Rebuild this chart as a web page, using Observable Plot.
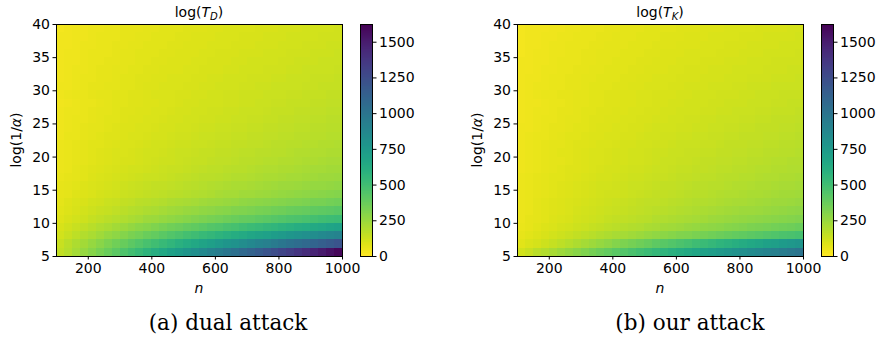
<!DOCTYPE html>
<html>
<head>
<meta charset="utf-8">
<script src="https://cdn.jsdelivr.net/npm/d3@7"></script>
<script src="https://cdn.jsdelivr.net/npm/@observablehq/plot@0.6"></script>
<style>
  html, body { margin: 0; padding: 0; background: #fff; }
  #root { position: relative; width: 881px; height: 343px; font-family: "DejaVu Sans", sans-serif; color: #000; overflow: hidden; }
  .abs { position: absolute; white-space: nowrap; }
  .title { font-size: 14px; }
  .ylab { font-size: 14px; transform: translate(-50%, -50%) rotate(-90deg); }
  .xlab { font-size: 14px; font-style: italic; }
  .cap { font-family: "DejaVu Serif", serif; font-size: 21.5px; }
  sub { font-size: 10px; vertical-align: -3px; }
</style>
</head>
<body>
<div id="root"></div>
<script>
// ---- Data ----
const nStart = [100,125,150,175,200,225,250,275,300,325,350,375,400,425,450,475,500,525,550,575,600,625,650,675,700,725,750,775,800,825,850,875,900,925,950,975];
const alphaStart = [5,6.25,7.5,8.75,10,11.25,12.5,13.75,15,16.25,17.5,18.75,20,21.25,22.5,23.75,25,26.25,27.5,28.75,30,31.25,32.5,33.75,35,36.25,37.5,38.75];
const xTicks = [200,400,600,800,1000];
const yTicks = [5,10,15,20,25,30,35,40];
const cbTicks = [0,250,500,750,1000,1250,1500];
const colorMax = 1624;
const titles = ["T", "T"];
const subs = ["D", "K"];
const captions = ["(a) dual attack", "(b) our attack"];

// rows from bottom (log(1/alpha)=5) to top (40); columns n = 100..1000
const dualRows = [
[146,183,220,257,295,333,372,411,451,490,531,571,612,653,694,735,776,819,860,902,945,987,1030,1073,1116,1159,1202,1245,1289,1332,1376,1421,1465,1509,1553,1598],
[137,167,197,228,258,289,319,349,380,410,440,471,501,532,562,592,623,653,683,714,744,775,805,835,866,896,926,957,987,1018,1048,1078,1109,1139,1169,1200],
[114,138,162,186,209,233,256,279,302,325,347,370,393,415,438,460,483,505,527,550,572,594,616,638,660,682,704,726,748,770,791,813,835,857,879,900],
[98,117,136,155,173,191,209,227,245,263,280,297,315,332,349,365,383,399,416,433,449,465,482,498,514,531,547,563,579,595,611,627,643,659,675,690],
[82,97,112,126,141,155,168,182,195,209,221,235,247,260,272,285,298,310,322,334,346,358,370,382,393,405,417,429,440,452,463,474,486,497,508,520],
[74,87,99,111,123,134,145,156,167,178,188,199,209,219,229,238,248,258,268,277,287,296,305,314,323,332,342,350,359,368,376,385,394,402,411,420],
[69,80,90,100,111,120,129,138,148,156,165,174,182,190,198,205,214,222,229,237,245,252,259,267,274,281,288,295,302,309,316,323,330,336,343,350],
[59,68,77,86,95,103,111,119,127,134,141,149,156,163,169,176,183,190,196,203,210,216,222,229,234,240,247,253,259,265,270,277,283,288,294,300],
[59,68,76,84,92,100,107,114,121,127,134,140,146,152,158,164,170,176,182,187,193,199,204,209,214,219,225,230,235,240,245,250,256,260,265,270],
[53,62,69,76,84,90,97,103,109,116,121,127,133,138,144,149,155,160,165,170,175,180,185,190,195,199,205,209,213,218,222,227,232,236,241,245],
[50,57,64,71,78,84,90,96,102,108,113,119,124,129,134,139,144,149,154,159,163,168,172,177,181,186,191,195,199,203,207,212,216,220,224,228],
[47,54,60,67,73,79,84,90,96,101,106,111,116,121,125,130,135,140,144,149,153,157,162,166,170,174,179,182,186,190,194,198,202,206,210,214],
[49,56,62,68,74,80,85,90,95,100,105,110,114,118,123,127,132,136,140,144,148,152,155,159,163,166,171,174,177,181,184,188,192,194,198,202],
[47,53,59,65,71,76,81,86,91,95,100,104,108,113,117,121,125,129,133,137,141,144,148,151,155,158,162,165,168,172,175,179,182,185,188,192],
[44,51,56,62,67,72,77,82,86,91,95,100,103,107,111,115,119,123,127,130,134,137,141,144,147,151,155,158,161,164,167,170,174,176,180,183],
[42,48,54,59,64,69,74,78,83,87,91,95,99,103,106,110,114,118,121,125,128,131,135,138,141,144,148,151,154,157,160,163,166,169,172,175],
[41,46,52,57,62,67,71,75,79,84,87,91,95,99,102,106,109,113,116,120,123,126,129,133,135,138,142,145,147,151,153,156,160,162,165,168],
[39,45,50,55,60,64,68,72,77,81,84,88,92,95,99,102,106,109,112,115,119,122,125,128,131,133,137,140,142,145,148,151,154,156,159,162],
[38,43,48,53,57,62,66,70,74,78,81,85,88,92,95,98,102,105,108,111,114,117,120,123,126,129,132,134,137,140,142,145,148,150,153,156],
[41,46,51,55,60,64,68,71,75,79,82,86,89,92,95,98,101,104,107,110,113,115,118,121,123,126,129,131,133,136,138,141,143,145,148,150],
[39,44,49,53,58,62,65,69,73,76,79,83,86,89,92,95,98,101,103,106,109,112,114,117,119,121,124,127,129,131,133,136,139,140,143,145],
[38,43,47,52,56,60,63,67,70,74,77,80,83,86,89,91,94,97,100,103,105,108,110,113,115,117,120,122,124,127,129,131,134,135,138,140],
[37,41,46,50,54,58,61,64,68,71,74,77,80,83,85,88,91,94,96,99,101,104,106,109,111,113,116,118,120,122,124,127,129,131,133,135],
[36,40,44,48,52,56,59,62,66,69,72,75,78,80,83,85,88,91,93,96,98,101,103,106,108,110,112,114,116,119,121,123,125,127,129,131],
[34,39,43,47,51,54,57,60,64,67,70,73,75,78,80,83,86,88,91,93,96,98,100,102,104,106,109,111,113,115,117,119,121,123,125,127],
[33,38,42,45,49,52,56,59,62,65,67,70,73,75,78,80,83,86,88,90,93,95,97,99,101,103,106,107,109,112,113,115,118,119,121,123],
[32,36,40,44,47,51,54,57,60,63,65,68,70,73,75,78,80,83,85,87,90,92,94,96,98,100,102,104,106,108,110,112,114,115,117,119],
[31,35,39,42,46,49,52,55,58,61,63,66,68,71,73,75,78,80,82,84,87,89,91,93,95,96,99,101,102,104,106,108,110,111,113,115]
];

const ourRows = [
[114,139,165,190,215,241,266,291,317,342,367,393,418,443,469,494,519,544,570,595,620,646,671,696,722,747,772,798,823,848,874,899,924,950,975,1000],
[72,89,107,125,144,163,182,201,220,239,259,279,299,319,339,359,379,400,420,441,461,482,503,524,545,566,587,608,629,651,672,694,715,737,758,780],
[61,74,87,99,112,124,136,149,161,173,185,198,210,222,234,245,258,270,281,293,305,317,329,340,352,364,376,387,399,411,422,434,446,457,469,480],
[52,63,73,83,93,103,112,122,131,141,150,159,169,178,187,196,205,214,223,232,241,249,258,267,276,284,293,302,310,319,327,336,344,353,361,370],
[49,58,67,75,84,92,100,108,116,124,132,140,147,155,162,170,177,185,192,199,206,213,221,228,235,242,249,256,262,269,276,283,290,296,303,310],
[48,57,65,73,80,88,95,102,109,116,123,130,137,143,150,156,163,169,175,181,188,194,200,206,211,217,224,229,235,241,246,252,258,263,269,275],
[49,57,64,72,79,86,92,99,105,112,118,124,130,135,141,147,153,158,164,169,175,180,185,190,195,200,206,211,215,221,225,230,236,240,245,250],
[45,53,60,67,73,80,86,92,98,104,109,115,120,126,131,136,142,147,152,157,162,167,172,177,181,186,191,196,200,205,209,214,219,223,227,232],
[48,55,61,68,74,80,86,92,97,103,108,113,118,123,128,132,138,142,147,151,156,160,165,169,173,177,182,186,190,194,198,202,206,210,214,218],
[45,52,58,64,70,76,81,87,92,97,102,107,112,116,121,125,130,135,139,143,147,152,156,160,164,167,172,176,179,183,187,191,195,198,202,206],
[43,49,55,61,67,72,77,82,88,92,97,102,106,111,115,119,124,128,132,136,140,144,148,152,156,159,164,167,171,175,178,182,186,189,192,196],
[41,47,53,59,64,69,74,79,84,89,93,98,102,106,110,114,119,123,127,131,135,138,142,146,149,153,157,160,164,167,171,174,178,181,185,188],
[44,50,56,61,66,71,76,80,85,89,94,98,102,106,109,113,117,121,124,128,132,135,139,142,145,148,152,155,158,161,164,168,171,173,177,180],
[42,48,53,59,64,69,73,77,82,86,90,94,98,102,105,109,113,116,120,123,127,130,133,136,139,143,146,149,152,155,158,161,164,167,170,173],
[40,46,51,56,61,66,70,74,78,83,86,90,94,97,101,104,108,112,115,118,122,125,128,131,134,137,140,143,146,149,151,155,158,160,163,166],
[39,44,49,54,59,63,67,71,76,80,83,87,90,94,97,101,104,108,111,114,117,120,123,126,129,132,135,138,140,144,146,149,152,154,157,160],
[37,43,48,52,57,61,65,69,73,77,80,84,87,90,94,97,100,104,107,110,113,116,119,122,124,127,130,133,135,138,141,143,146,148,151,154],
[36,41,46,50,55,59,62,66,70,74,77,81,84,87,90,93,97,100,102,105,108,111,114,117,119,122,125,128,130,133,135,138,141,143,145,148],
[35,40,44,48,53,57,60,64,68,71,74,78,81,84,87,90,93,96,99,102,105,108,110,113,115,118,121,123,126,128,131,133,136,138,141,143],
[37,42,47,51,55,59,62,66,69,73,76,79,82,85,87,90,93,96,98,101,104,106,109,111,113,116,118,120,122,125,127,129,132,134,136,138],
[36,41,45,49,53,57,60,63,67,70,73,76,79,81,84,87,90,93,95,97,100,102,105,107,109,111,114,116,118,121,122,125,127,129,131,133],
[35,39,43,47,51,55,58,61,64,67,70,73,76,78,81,84,86,89,91,94,96,99,101,103,105,107,110,112,114,116,118,120,122,124,126,128],
[34,38,42,46,49,53,56,59,62,65,68,71,73,76,79,81,84,86,88,91,93,96,98,100,102,104,106,108,110,112,114,116,119,120,122,124],
[33,37,41,44,48,51,54,57,60,63,66,69,71,74,76,78,81,84,86,88,90,92,95,97,99,101,103,105,107,109,110,113,115,116,118,120],
[31,36,39,43,46,50,52,55,58,61,64,66,69,71,74,76,78,81,83,85,87,89,91,94,95,97,100,101,103,105,107,109,111,112,114,116],
[30,34,38,41,45,48,51,53,56,59,61,64,66,69,71,73,76,78,80,82,84,86,88,90,92,94,96,98,100,102,103,105,107,109,111,112],
[29,33,37,40,43,46,49,51,54,57,59,62,64,66,68,71,73,75,77,79,81,83,85,87,89,91,93,94,96,98,100,102,103,105,107,108],
[28,32,35,38,42,44,47,50,52,55,57,60,62,64,66,68,70,73,74,76,78,80,82,84,86,87,89,91,93,94,96,98,100,101,103,104]
];

// ---- Build ----
const root = document.getElementById("root");
const color = {type: "linear", scheme: "viridis", reverse: true, domain: [0, colorMax]};
const axisStyle = {fontSize: "14px", fontFamily: "DejaVu Sans, sans-serif", color: "#000", background: "transparent", overflow: "visible"};
const plain = d => String(d);

function cells(rows) {
  const out = [];
  rows.forEach((row, i) => row.forEach((v, j) => out.push({n: nStart[j], a: alphaStart[i], v})));
  return out;
}
const dn = nStart[1] - nStart[0];
const da = alphaStart[1] - alphaStart[0];

function place(el, left, top) {
  el.style.position = "absolute";
  el.style.left = left + "px";
  el.style.top = top + "px";
  root.appendChild(el);
}
function addText(html, cls, x, y) {
  const d = document.createElement("div");
  d.className = "abs " + cls;
  d.innerHTML = html;
  d.style.left = x + "px";
  d.style.top = y + "px";
  if (!cls.includes("ylab")) d.style.transform = "translate(-50%, -50%)";
  root.appendChild(d);
}

function heatmap(rows) {
  return Plot.plot({
    width: 350, height: 300,
    marginLeft: 56, marginRight: 8, marginTop: 24, marginBottom: 44,
    style: axisStyle,
    x: {domain: [100, 1000], ticks: xTicks, tickFormat: plain, tickSize: 3.5, tickPadding: 3, label: null},
    y: {domain: [5, 40], ticks: yTicks, tickFormat: plain, tickSize: 3.5, tickPadding: 3, label: null},
    color,
    marks: [
      Plot.rect(cells(rows), {x1: "n", x2: d => d.n + dn, y1: "a", y2: d => d.a + da, fill: "v", shapeRendering: "crispEdges"}),
      Plot.frame({stroke: "#000", strokeWidth: 1})
    ]
  });
}

const cbSteps = d3.range(0, colorMax, 4);
function colorbar() {
  return Plot.plot({
    width: 80, height: 300,
    marginLeft: 20, marginRight: 48, marginTop: 24, marginBottom: 44,
    style: axisStyle,
    x: {domain: [0, 1], axis: null},
    y: {domain: [0, colorMax], ticks: cbTicks, tickFormat: plain, axis: "right", tickSize: 3.5, tickPadding: 3, label: null},
    color,
    marks: [
      Plot.rect(cbSteps, {x1: 0, x2: 1, y1: d => d, y2: d => Math.min(d + 4, colorMax), fill: d => d + 2, shapeRendering: "crispEdges"}),
      Plot.frame({stroke: "#000", strokeWidth: 1})
    ]
  });
}

const panelLeft = [0, 461];
[dualRows, ourRows].forEach((rows, p) => {
  const L = panelLeft[p];
  place(heatmap(rows), L, 0);
  place(colorbar(), L + 340, 0);
  addText(`log(<i>${titles[p]}</i><sub><i>${subs[p]}</i></sub>)`, "title", L + 199, 13);
  addText(`log(1/<i>α</i>)`, "ylab", L + 16, 140);
  addText(`n`, "xlab", L + 199, 288);
  addText(captions[p], "cap", L + 228 + (p ? 1 : 0), 322);
});
</script>
</body>
</html>
